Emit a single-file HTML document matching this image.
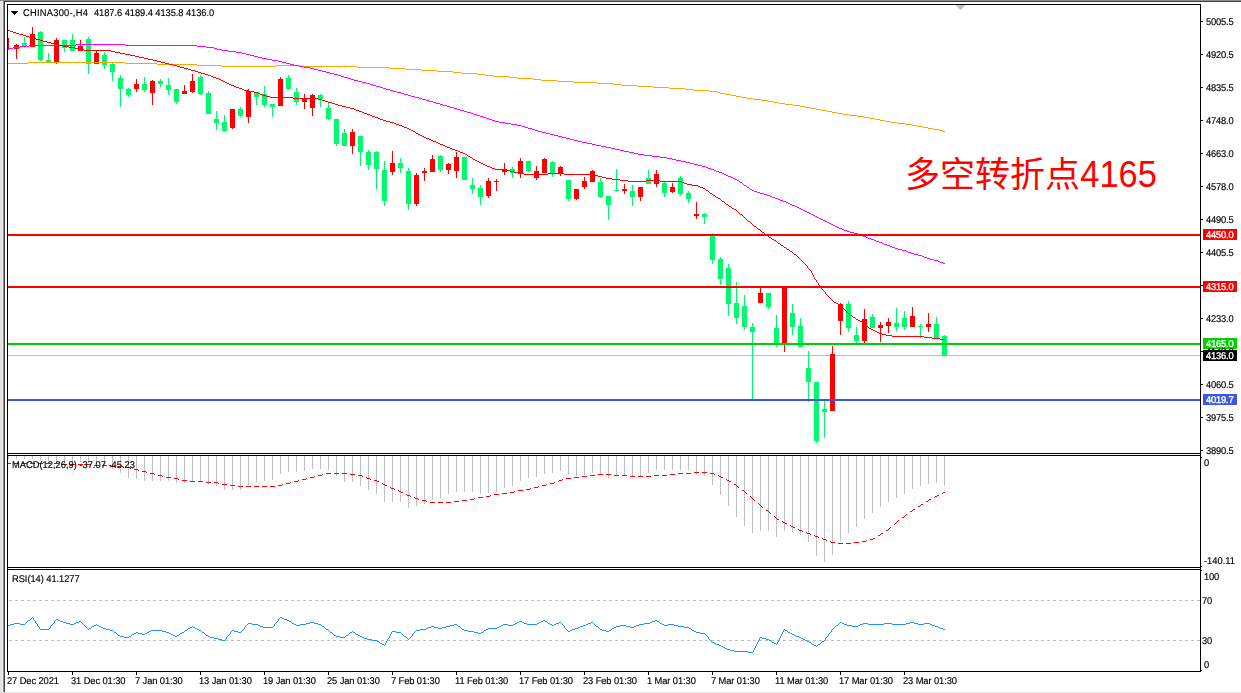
<!DOCTYPE html>
<html><head><meta charset="utf-8"><title>CHINA300 H4</title>
<style>
html,body{margin:0;padding:0;background:#fff;}
body{width:1241px;height:693px;overflow:hidden;position:relative;font-family:"Liberation Sans",sans-serif;}
.t{position:absolute;white-space:pre;line-height:1;font-family:"Liberation Sans",sans-serif;font-size:9.8px;text-rendering:geometricPrecision;transform:scaleX(0.952);transform-origin:0 0;-webkit-text-stroke:0.16px currentColor;}
#tl{position:absolute;left:0;top:0;width:1241px;height:693px;will-change:transform;}
</style></head><body>
<svg width="1241" height="693" viewBox="0 0 1241 693" shape-rendering="crispEdges" style="position:absolute;left:0;top:0"><rect width="1241" height="693" fill="#fff"/><rect x="0" y="0" width="3" height="693" fill="#e3e3e3"/><rect x="2" y="2" width="1" height="691" fill="#f0f0f0"/><rect x="3" y="0" width="1" height="692" fill="#8c8c8c"/><rect x="4" y="1" width="1" height="691" fill="#424242"/><rect x="0" y="0" width="1241" height="1" fill="#8c8c8c"/><rect x="4" y="1" width="1241" height="1" fill="#424242"/><rect x="0" y="692" width="1241" height="1" fill="#e3e3e3"/><path d="M955.6 5h9.8l-4.9 5.2z" fill="#c0c0c0" shape-rendering="auto"/><clipPath id="cm"><rect x="8" y="5" width="1192" height="448"/></clipPath><g clip-path="url(#cm)"><rect x="8" y="355" width="1192" height="1" fill="#c0c0c0"/><path d="M22 43h5v4h-5zM24 37h1v6h-1zM24 47h1v1h-1zM38 32h5v28h-5zM40 31h1v1h-1zM40 60h1v1h-1zM46 60h5v2h-5zM48 53h1v7h-1zM62 40h5v8h-5zM64 48h1v4h-1zM70 40h5v11h-5zM72 34h1v6h-1zM86 39h5v25h-5zM88 37h1v2h-1zM88 64h1v10h-1zM102 55h5v10h-5zM104 52h1v3h-1zM104 65h1v4h-1zM110 64h5v8h-5zM112 63h1v1h-1zM112 72h1v9h-1zM118 78h5v11h-5zM120 75h1v3h-1zM120 89h1v18h-1zM126 89h5v6h-5zM128 88h1v1h-1zM128 95h1v2h-1zM142 84h5v6h-5zM144 77h1v7h-1zM144 90h1v2h-1zM158 81h5v3h-5zM160 79h1v2h-1zM160 84h1v3h-1zM166 85h5v5h-5zM168 78h1v7h-1zM168 90h1v5h-1zM174 89h5v13h-5zM176 102h1v2h-1zM198 77h5v17h-5zM200 75h1v2h-1zM200 94h1v1h-1zM206 93h5v21h-5zM208 91h1v2h-1zM214 119h5v4h-5zM216 111h1v8h-1zM216 123h1v7h-1zM222 122h5v9h-5zM224 115h1v7h-1zM224 131h1v1h-1zM238 109h5v7h-5zM240 107h1v2h-1zM240 116h1v1h-1zM254 92h5v5h-5zM256 97h1v8h-1zM262 94h5v11h-5zM264 86h1v8h-1zM264 105h1v2h-1zM270 104h5v3h-5zM272 107h1v10h-1zM286 78h5v11h-5zM288 75h1v3h-1zM288 89h1v1h-1zM294 92h5v10h-5zM296 88h1v4h-1zM296 102h1v3h-1zM318 95h5v4h-5zM320 94h1v1h-1zM320 99h1v8h-1zM326 108h5v11h-5zM328 103h1v5h-1zM328 119h1v1h-1zM334 119h5v25h-5zM336 144h1v2h-1zM342 133h5v13h-5zM344 129h1v4h-1zM358 136h5v16h-5zM360 152h1v14h-1zM366 152h5v13h-5zM368 150h1v2h-1zM368 165h1v5h-1zM374 152h5v17h-5zM376 151h1v1h-1zM376 169h1v20h-1zM382 170h5v31h-5zM384 161h1v9h-1zM384 201h1v5h-1zM398 163h5v5h-5zM400 158h1v5h-1zM400 168h1v5h-1zM406 171h5v33h-5zM408 168h1v3h-1zM408 204h1v6h-1zM438 156h5v14h-5zM440 155h1v1h-1zM440 170h1v2h-1zM462 157h5v23h-5zM470 185h5v4h-5zM472 178h1v7h-1zM472 189h1v5h-1zM478 188h5v9h-5zM480 185h1v3h-1zM480 197h1v8h-1zM510 169h5v4h-5zM512 167h1v2h-1zM512 173h1v5h-1zM526 161h5v10h-5zM528 171h1v1h-1zM550 162h5v11h-5zM552 161h1v1h-1zM552 173h1v4h-1zM566 180h5v19h-5zM568 199h1v2h-1zM598 182h5v15h-5zM600 178h1v4h-1zM600 197h1v1h-1zM606 196h5v9h-5zM608 205h1v15h-1zM614 190h5v1h-5zM616 169h1v21h-1zM616 191h1v1h-1zM630 191h5v6h-5zM632 185h1v6h-1zM632 197h1v9h-1zM646 178h5v6h-5zM648 170h1v8h-1zM662 183h5v10h-5zM664 182h1v1h-1zM664 193h1v4h-1zM678 178h5v16h-5zM680 176h1v2h-1zM680 194h1v2h-1zM686 193h5v6h-5zM688 191h1v2h-1zM688 199h1v4h-1zM702 214h5v3h-5zM704 213h1v1h-1zM704 217h1v7h-1zM710 236h5v24h-5zM712 233h1v3h-1zM712 260h1v4h-1zM718 259h5v20h-5zM720 257h1v2h-1zM720 279h1v6h-1zM726 268h5v36h-5zM728 264h1v4h-1zM728 304h1v12h-1zM734 303h5v15h-5zM736 282h1v21h-1zM736 318h1v6h-1zM742 306h5v21h-5zM744 295h1v11h-1zM744 327h1v3h-1zM750 327h5v5h-5zM752 323h1v4h-1zM752 332h1v68h-1zM766 293h5v14h-5zM768 307h1v2h-1zM774 328h5v17h-5zM776 315h1v13h-1zM776 345h1v2h-1zM790 313h5v14h-5zM792 304h1v9h-1zM792 327h1v8h-1zM798 326h5v21h-5zM800 318h1v8h-1zM806 368h5v14h-5zM808 351h1v17h-1zM808 382h1v20h-1zM814 382h5v59h-5zM816 441h1v2h-1zM822 409h5v3h-5zM824 401h1v8h-1zM824 412h1v26h-1zM846 304h5v24h-5zM848 301h1v3h-1zM848 328h1v4h-1zM854 335h5v6h-5zM856 327h1v8h-1zM856 341h1v2h-1zM870 317h5v11h-5zM872 314h1v3h-1zM894 323h5v4h-5zM896 308h1v15h-1zM896 327h1v4h-1zM902 318h5v9h-5zM904 311h1v7h-1zM904 327h1v3h-1zM918 326h5v1h-5zM920 324h1v2h-1zM920 327h1v11h-1zM934 324h5v14h-5zM936 317h1v7h-1zM942 336h5v20h-5zM944 335h1v1h-1z" fill="#00fa6e"/><path d="M14 45h5v4h-5zM16 44h1v1h-1zM16 49h1v10h-1zM30 34h5v13h-5zM32 27h1v7h-1zM54 40h5v22h-5zM56 38h1v2h-1zM56 62h1v2h-1zM78 46h5v5h-5zM80 40h1v6h-1zM94 53h5v11h-5zM96 51h1v2h-1zM134 84h5v5h-5zM136 79h1v5h-1zM136 89h1v3h-1zM150 81h5v12h-5zM152 80h1v1h-1zM152 93h1v12h-1zM182 91h5v3h-5zM184 85h1v6h-1zM190 81h5v11h-5zM192 74h1v7h-1zM192 92h1v1h-1zM230 109h5v19h-5zM232 128h1v1h-1zM246 91h5v26h-5zM248 89h1v2h-1zM248 117h1v6h-1zM278 79h5v27h-5zM280 77h1v2h-1zM302 98h5v4h-5zM304 94h1v4h-1zM304 102h1v7h-1zM310 95h5v13h-5zM312 94h1v1h-1zM312 108h1v8h-1zM350 132h5v14h-5zM352 129h1v3h-1zM352 146h1v8h-1zM390 163h5v9h-5zM392 151h1v12h-1zM392 172h1v3h-1zM414 175h5v29h-5zM416 173h1v2h-1zM416 204h1v2h-1zM422 171h5v2h-5zM424 168h1v3h-1zM424 173h1v8h-1zM430 159h5v13h-5zM432 155h1v4h-1zM446 164h5v6h-5zM448 163h1v1h-1zM448 170h1v4h-1zM454 157h5v14h-5zM456 152h1v5h-1zM456 171h1v7h-1zM486 181h5v15h-5zM488 178h1v3h-1zM488 196h1v2h-1zM494 181h5v1h-5zM496 179h1v2h-1zM496 182h1v9h-1zM502 169h5v3h-5zM504 163h1v6h-1zM504 172h1v3h-1zM518 161h5v13h-5zM520 158h1v3h-1zM520 174h1v4h-1zM534 171h5v7h-5zM536 166h1v5h-1zM536 178h1v2h-1zM542 159h5v14h-5zM544 158h1v1h-1zM558 167h5v6h-5zM560 166h1v1h-1zM560 173h1v3h-1zM574 189h5v10h-5zM576 199h1v1h-1zM582 181h5v6h-5zM584 177h1v4h-1zM584 187h1v2h-1zM590 171h5v11h-5zM592 170h1v1h-1zM622 189h5v2h-5zM624 184h1v5h-1zM624 191h1v3h-1zM638 187h5v10h-5zM640 197h1v4h-1zM654 174h5v10h-5zM656 170h1v4h-1zM656 184h1v3h-1zM670 187h5v5h-5zM672 183h1v4h-1zM672 192h1v1h-1zM694 214h5v2h-5zM696 202h1v12h-1zM696 216h1v3h-1zM758 293h5v10h-5zM760 286h1v7h-1zM782 287h5v58h-5zM784 345h1v7h-1zM830 354h5v57h-5zM832 346h1v8h-1zM838 304h5v17h-5zM840 303h1v1h-1zM840 321h1v14h-1zM862 319h5v22h-5zM864 309h1v10h-1zM864 341h1v2h-1zM878 325h5v3h-5zM880 322h1v3h-1zM880 328h1v14h-1zM886 322h5v4h-5zM888 318h1v4h-1zM888 326h1v7h-1zM910 316h5v11h-5zM912 307h1v9h-1zM926 324h5v3h-5zM928 313h1v11h-1zM928 327h1v5h-1zM8 38h1v12h-1z" fill="#ff0000"/><path d="M28 62h97v1h-97zM8 63h20v1h-20zM125 63h32v1h-32zM157 64h40v1h-40zM197 65h24v1h-24zM276 65h24v1h-24zM221 66h55v1h-55zM300 66h57v1h-57zM357 67h32v1h-32zM389 68h16v1h-16zM405 69h16v1h-16zM421 70h16v1h-16zM437 71h16v1h-16zM453 72h8v1h-8zM461 73h16v1h-16zM477 74h8v1h-8zM485 75h8v1h-8zM493 76h16v1h-16zM509 77h8v1h-8zM517 78h16v1h-16zM533 79h8v1h-8zM541 80h16v1h-16zM557 81h16v1h-16zM573 82h24v1h-24zM597 83h16v1h-16zM613 84h8v1h-8zM621 85h16v1h-16zM637 86h16v1h-16zM653 87h16v1h-16zM669 88h16v1h-16zM685 89h8v1h-8zM693 90h16v1h-16zM709 91h8v1h-8zM717 92h3v1h-3zM720 93h5v1h-5zM725 94h6v1h-6zM731 95h5v1h-5zM736 96h5v1h-5zM741 97h6v1h-6zM747 98h6v1h-6zM753 99h8v1h-8zM761 100h7v1h-7zM768 101h5v1h-5zM773 102h6v1h-6zM779 103h6v1h-6zM785 104h8v1h-8zM793 105h7v1h-7zM800 106h5v1h-5zM805 107h6v1h-6zM811 108h5v1h-5zM816 109h5v1h-5zM821 110h6v1h-6zM827 111h5v1h-5zM832 112h5v1h-5zM837 113h6v1h-6zM843 114h6v1h-6zM849 115h8v1h-8zM857 116h7v1h-7zM864 117h5v1h-5zM869 118h6v1h-6zM875 119h5v1h-5zM880 120h5v1h-5zM885 121h6v1h-6zM891 122h6v1h-6zM897 123h8v1h-8zM905 124h7v1h-7zM912 125h5v1h-5zM917 126h6v1h-6zM923 127h5v1h-5zM928 128h5v1h-5zM933 129h6v1h-6zM939 130h4v1h-4zM943 131h2v1h-2z" fill="#ffa500"/><path d="M76 44h49v1h-49zM29 45h47v1h-47zM125 45h72v1h-72zM20 46h9v1h-9zM197 46h9v1h-9zM13 47h7v1h-7zM206 47h8v1h-8zM8 48h5v1h-5zM214 48h3v1h-3zM217 49h5v1h-5zM222 50h6v1h-6zM228 51h8v1h-8zM236 52h6v1h-6zM242 53h4v1h-4zM246 54h4v1h-4zM250 55h4v1h-4zM254 56h4v1h-4zM258 57h4v1h-4zM262 58h5v1h-5zM267 59h5v1h-5zM272 60h6v1h-6zM278 61h4v1h-4zM282 62h4v1h-4zM286 63h4v1h-4zM290 64h4v1h-4zM294 65h5v1h-5zM299 66h5v1h-5zM304 67h6v1h-6zM310 68h4v1h-4zM314 69h4v1h-4zM318 70h4v1h-4zM322 71h4v1h-4zM326 72h4v1h-4zM330 73h4v1h-4zM334 74h4v1h-4zM338 75h3v1h-3zM341 76h3v1h-3zM344 77h4v1h-4zM348 78h3v1h-3zM351 79h3v1h-3zM354 80h4v1h-4zM358 81h4v1h-4zM362 82h4v1h-4zM366 83h4v1h-4zM370 84h3v1h-3zM373 85h3v1h-3zM376 86h4v1h-4zM380 87h3v1h-3zM383 88h3v1h-3zM386 89h4v1h-4zM390 90h3v1h-3zM393 91h4v1h-4zM397 92h4v1h-4zM401 93h3v1h-3zM404 94h4v1h-4zM408 95h3v1h-3zM411 96h4v1h-4zM415 97h4v1h-4zM419 98h3v1h-3zM422 99h4v1h-4zM426 100h3v1h-3zM429 101h4v1h-4zM433 102h3v1h-3zM436 103h4v1h-4zM440 104h3v1h-3zM443 105h4v1h-4zM447 106h3v1h-3zM450 107h4v1h-4zM454 108h3v1h-3zM457 109h3v1h-3zM460 110h4v1h-4zM464 111h3v1h-3zM467 112h4v1h-4zM471 113h3v1h-3zM474 114h3v1h-3zM477 115h3v1h-3zM480 116h3v1h-3zM483 117h3v1h-3zM486 118h3v1h-3zM489 119h3v1h-3zM492 120h3v1h-3zM495 121h4v1h-4zM499 122h6v1h-6zM505 123h6v1h-6zM511 124h6v1h-6zM517 125h5v1h-5zM522 126h3v1h-3zM525 127h3v1h-3zM528 128h4v1h-4zM532 129h3v1h-3zM535 130h3v1h-3zM538 131h4v1h-4zM542 132h4v1h-4zM546 133h4v1h-4zM550 134h4v1h-4zM554 135h4v1h-4zM558 136h4v1h-4zM562 137h4v1h-4zM566 138h4v1h-4zM570 139h4v1h-4zM574 140h4v1h-4zM578 141h4v1h-4zM582 142h5v1h-5zM587 143h5v1h-5zM592 144h4v1h-4zM596 145h5v1h-5zM601 146h5v1h-5zM606 147h5v1h-5zM611 148h4v1h-4zM615 149h5v1h-5zM620 150h4v1h-4zM624 151h5v1h-5zM629 152h5v1h-5zM634 153h4v1h-4zM638 154h6v1h-6zM644 155h8v1h-8zM652 156h8v1h-8zM660 157h7v1h-7zM667 158h5v1h-5zM672 159h4v1h-4zM676 160h5v1h-5zM681 161h5v1h-5zM686 162h4v1h-4zM690 163h4v1h-4zM694 164h4v1h-4zM698 165h4v1h-4zM702 166h4v1h-4zM706 167h2v1h-2zM708 168h3v1h-3zM711 169h3v1h-3zM714 170h2v1h-2zM716 171h3v1h-3zM719 172h3v1h-3zM722 173h2v1h-2zM724 174h2v1h-2zM726 175h2v1h-2zM728 176h3v1h-3zM731 177h2v1h-2zM733 178h2v1h-2zM735 179h2v1h-2zM737 180h2v1h-2zM739 181h1v1h-1zM740 182h2v1h-2zM742 183h1v1h-1zM743 184h1v1h-1zM744 185h2v1h-2zM746 186h1v1h-1zM747 187h2v1h-2zM749 188h1v1h-1zM750 189h2v1h-2zM752 190h2v1h-2zM754 191h3v1h-3zM757 192h3v1h-3zM760 193h4v1h-4zM764 194h3v1h-3zM767 195h3v1h-3zM770 196h2v1h-2zM772 197h3v1h-3zM775 198h3v1h-3zM778 199h2v1h-2zM780 200h3v1h-3zM783 201h3v1h-3zM786 202h2v1h-2zM788 203h2v1h-2zM790 204h2v1h-2zM792 205h3v1h-3zM795 206h2v1h-2zM797 207h2v1h-2zM799 208h2v1h-2zM801 209h2v1h-2zM803 210h2v1h-2zM805 211h2v1h-2zM807 212h2v1h-2zM809 213h2v1h-2zM811 214h2v1h-2zM813 215h2v1h-2zM815 216h2v1h-2zM817 217h2v1h-2zM819 218h2v1h-2zM821 219h2v1h-2zM823 220h2v1h-2zM825 221h2v1h-2zM827 222h2v1h-2zM829 223h2v1h-2zM831 224h2v1h-2zM833 225h2v1h-2zM835 226h2v1h-2zM837 227h2v1h-2zM839 228h3v1h-3zM842 229h2v1h-2zM844 230h3v1h-3zM847 231h3v1h-3zM850 232h4v1h-4zM854 233h4v1h-4zM858 234h2v1h-2zM860 235h3v1h-3zM863 236h3v1h-3zM866 237h2v1h-2zM868 238h3v1h-3zM871 239h3v1h-3zM874 240h2v1h-2zM876 241h3v1h-3zM879 242h3v1h-3zM882 243h2v1h-2zM884 244h3v1h-3zM887 245h3v1h-3zM890 246h2v1h-2zM892 247h3v1h-3zM895 248h3v1h-3zM898 249h4v1h-4zM902 250h4v1h-4zM906 251h2v1h-2zM908 252h3v1h-3zM911 253h3v1h-3zM914 254h4v1h-4zM918 255h4v1h-4zM922 256h2v1h-2zM924 257h3v1h-3zM927 258h3v1h-3zM930 259h4v1h-4zM934 260h4v1h-4zM938 261h2v1h-2zM940 262h3v1h-3zM943 263h2v1h-2z" fill="#ff00ff"/><path d="M8 30h2v1h-2zM10 31h3v1h-3zM13 32h3v1h-3zM16 33h3v1h-3zM19 34h4v1h-4zM23 35h3v1h-3zM26 36h3v1h-3zM29 37h3v1h-3zM32 38h4v1h-4zM36 39h4v1h-4zM40 40h3v1h-3zM43 41h4v1h-4zM47 42h4v1h-4zM51 43h3v1h-3zM54 44h4v1h-4zM58 45h5v1h-5zM63 46h6v1h-6zM69 47h6v1h-6zM75 48h5v1h-5zM80 49h4v1h-4zM84 50h27v1h-27zM111 51h4v1h-4zM115 52h5v1h-5zM120 53h5v1h-5zM125 54h5v1h-5zM130 55h5v1h-5zM135 56h4v1h-4zM139 57h5v1h-5zM144 58h4v1h-4zM148 59h5v1h-5zM153 60h4v1h-4zM157 61h4v1h-4zM161 62h4v1h-4zM165 63h4v1h-4zM169 64h4v1h-4zM173 65h4v1h-4zM177 66h3v1h-3zM180 67h4v1h-4zM184 68h4v1h-4zM188 69h3v1h-3zM191 70h4v1h-4zM195 71h3v1h-3zM198 72h3v1h-3zM201 73h4v1h-4zM205 74h3v1h-3zM208 75h3v1h-3zM211 76h2v1h-2zM213 77h3v1h-3zM216 78h3v1h-3zM219 79h2v1h-2zM221 80h2v1h-2zM223 81h2v1h-2zM225 82h2v1h-2zM227 83h2v1h-2zM229 84h2v1h-2zM231 85h3v1h-3zM234 86h2v1h-2zM236 87h3v1h-3zM239 88h3v1h-3zM242 89h2v1h-2zM244 90h4v1h-4zM248 91h6v1h-6zM254 92h4v1h-4zM258 93h2v1h-2zM260 94h3v1h-3zM263 95h3v1h-3zM266 96h4v1h-4zM270 97h23v1h-23zM293 98h25v1h-25zM318 99h4v1h-4zM322 100h3v1h-3zM325 101h3v1h-3zM328 102h4v1h-4zM332 103h3v1h-3zM335 104h3v1h-3zM338 105h4v1h-4zM342 106h4v1h-4zM346 107h4v1h-4zM350 108h4v1h-4zM354 109h2v1h-2zM356 110h3v1h-3zM359 111h3v1h-3zM362 112h2v1h-2zM364 113h3v1h-3zM367 114h3v1h-3zM370 115h2v1h-2zM372 116h3v1h-3zM375 117h3v1h-3zM378 118h2v1h-2zM380 119h3v1h-3zM383 120h3v1h-3zM386 121h4v1h-4zM390 122h4v1h-4zM394 123h2v1h-2zM396 124h3v1h-3zM399 125h3v1h-3zM402 126h2v1h-2zM404 127h3v1h-3zM407 128h2v1h-2zM409 129h2v1h-2zM411 130h2v1h-2zM413 131h2v1h-2zM415 132h1v1h-1zM416 133h2v1h-2zM418 134h2v1h-2zM420 135h2v1h-2zM422 136h2v1h-2zM424 137h2v1h-2zM426 138h3v1h-3zM429 139h2v1h-2zM431 140h2v1h-2zM433 141h3v1h-3zM436 142h2v1h-2zM438 143h2v1h-2zM440 144h3v1h-3zM443 145h2v1h-2zM445 146h2v1h-2zM447 147h3v1h-3zM450 148h2v1h-2zM452 149h3v1h-3zM455 150h3v1h-3zM458 151h2v1h-2zM460 152h3v1h-3zM463 153h2v1h-2zM465 154h2v1h-2zM467 155h1v1h-1zM468 156h2v1h-2zM470 157h2v1h-2zM472 158h1v1h-1zM473 159h2v1h-2zM475 160h2v1h-2zM477 161h2v1h-2zM479 162h2v1h-2zM481 163h2v1h-2zM483 164h2v1h-2zM485 165h2v1h-2zM487 166h3v1h-3zM490 167h2v1h-2zM492 168h3v1h-3zM495 169h11v1h-11zM506 170h4v1h-4zM510 171h4v1h-4zM514 172h4v1h-4zM518 173h6v1h-6zM548 173h16v1h-16zM524 174h24v1h-24zM564 174h30v1h-30zM594 175h4v1h-4zM598 176h4v1h-4zM602 177h4v1h-4zM606 178h6v1h-6zM612 179h8v1h-8zM620 180h8v1h-8zM646 180h14v1h-14zM628 181h18v1h-18zM660 181h22v1h-22zM682 182h2v1h-2zM684 183h3v1h-3zM687 184h5v1h-5zM692 185h6v1h-6zM698 186h2v1h-2zM700 187h3v1h-3zM703 188h2v1h-2zM705 189h1v1h-1zM706 190h2v1h-2zM708 191h1v1h-1zM709 192h1v1h-1zM710 193h2v1h-2zM712 194h1v1h-1zM713 195h2v1h-2zM715 196h1v1h-1zM716 197h2v1h-2zM718 198h2v1h-2zM720 199h1v1h-1zM721 200h1v1h-1zM722 201h2v1h-2zM724 202h1v1h-1zM725 203h1v1h-1zM726 204h2v1h-2zM728 205h1v1h-1zM729 206h2v1h-2zM731 207h1v1h-1zM732 208h2v1h-2zM734 209h2v1h-2zM736 210h1v1h-1zM737 211h1v1h-1zM738 212h1v1h-1zM739 213h1v1h-1zM740 214h2v1h-2zM742 215h1v1h-1zM743 216h1v1h-1zM744 217h1v1h-1zM745 218h1v1h-1zM746 219h1v1h-1zM747 220h1v1h-1zM748 221h2v1h-2zM750 222h1v1h-1zM751 223h1v1h-1zM752 224h1v1h-1zM753 225h1v1h-1zM754 226h2v1h-2zM756 227h1v1h-1zM757 228h1v1h-1zM758 229h2v1h-2zM760 230h1v1h-1zM761 231h1v1h-1zM762 232h2v1h-2zM764 233h1v1h-1zM765 234h1v1h-1zM766 235h2v1h-2zM768 236h1v1h-1zM769 237h2v1h-2zM771 238h1v1h-1zM772 239h2v1h-2zM774 240h2v1h-2zM776 241h1v1h-1zM777 242h1v1h-1zM778 243h2v1h-2zM780 244h1v1h-1zM781 245h2v1h-2zM783 246h1v1h-1zM784 247h2v1h-2zM786 248h1v1h-1zM787 249h2v1h-2zM789 250h1v1h-1zM790 251h2v1h-2zM792 252h1v1h-1zM793 253h1v1h-1zM794 254h2v1h-2zM796 255h1v1h-1zM797 256h1v1h-1zM798 257h1v1h-1zM799 258h1v1h-1zM800 259h1v1h-1zM801 260h1v1h-1zM802 261h1v1h-1zM803 262h1v1h-1zM804 263h1v1h-1zM805 264h1v1h-1zM806 265h1v1h-1zM807 266h1v1h-1zM807 267h1v1h-1zM808 268h1v1h-1zM809 269h1v1h-1zM810 270h1v1h-1zM811 271h1v1h-1zM811 272h1v1h-1zM812 273h1v1h-1zM812 274h1v1h-1zM813 275h1v1h-1zM813 276h1v1h-1zM814 277h1v1h-1zM814 278h1v1h-1zM815 279h1v1h-1zM816 280h1v1h-1zM816 281h1v1h-1zM817 282h1v1h-1zM818 283h1v1h-1zM818 284h1v1h-1zM819 285h1v1h-1zM820 286h1v1h-1zM821 287h1v1h-1zM821 288h1v1h-1zM822 289h1v1h-1zM823 290h1v1h-1zM824 291h1v1h-1zM825 292h1v1h-1zM825 293h1v1h-1zM826 294h1v1h-1zM827 295h1v1h-1zM828 296h1v1h-1zM829 297h1v1h-1zM830 298h1v1h-1zM831 299h1v1h-1zM832 300h1v1h-1zM833 301h1v1h-1zM834 302h2v1h-2zM836 303h2v1h-2zM838 304h2v1h-2zM840 305h1v1h-1zM841 306h1v1h-1zM842 307h1v1h-1zM843 308h1v1h-1zM844 309h1v1h-1zM845 310h1v1h-1zM846 311h1v1h-1zM847 312h1v1h-1zM848 313h1v1h-1zM849 314h1v1h-1zM850 315h2v1h-2zM852 316h1v1h-1zM853 317h2v1h-2zM855 318h1v1h-1zM856 319h2v1h-2zM858 320h2v1h-2zM860 321h2v1h-2zM862 322h1v1h-1zM863 323h1v1h-1zM864 324h1v1h-1zM865 325h2v1h-2zM867 326h1v1h-1zM868 327h1v1h-1zM869 328h2v1h-2zM871 329h2v1h-2zM873 330h2v1h-2zM875 331h2v1h-2zM877 332h2v1h-2zM879 333h3v1h-3zM882 334h4v1h-4zM886 335h6v1h-6zM892 336h32v1h-32zM924 337h8v1h-8zM932 338h8v1h-8zM940 339h5v1h-5z" fill="#ff0000"/></g><rect x="8" y="234" width="1192" height="2" fill="#ff0000"/><rect x="8" y="286" width="1192" height="2" fill="#ff0000"/><rect x="8" y="343" width="1192" height="2" fill="#00d000"/><rect x="8" y="399" width="1192" height="2" fill="#3c58e2"/><path d="M8 456h1v3h-1zM16 456h1v3h-1zM24 456h1v3h-1zM32 456h1v3h-1zM40 456h1v4h-1zM48 456h1v5h-1zM56 456h1v6h-1zM64 456h1v6h-1zM72 456h1v6h-1zM80 456h1v6h-1zM88 456h1v7h-1zM96 456h1v8h-1zM104 456h1v10h-1zM112 456h1v13h-1zM120 456h1v17h-1zM128 456h1v22h-1zM136 456h1v23h-1zM144 456h1v25h-1zM152 456h1v25h-1zM160 456h1v25h-1zM168 456h1v25h-1zM176 456h1v27h-1zM184 456h1v27h-1zM192 456h1v25h-1zM200 456h1v25h-1zM208 456h1v28h-1zM216 456h1v30h-1zM224 456h1v34h-1zM232 456h1v34h-1zM240 456h1v34h-1zM248 456h1v29h-1zM256 456h1v26h-1zM264 456h1v25h-1zM272 456h1v24h-1zM280 456h1v18h-1zM288 456h1v16h-1zM296 456h1v16h-1zM304 456h1v15h-1zM312 456h1v13h-1zM320 456h1v13h-1zM328 456h1v14h-1zM336 456h1v20h-1zM344 456h1v26h-1zM352 456h1v26h-1zM360 456h1v30h-1zM368 456h1v34h-1zM376 456h1v38h-1zM384 456h1v46h-1zM392 456h1v46h-1zM400 456h1v46h-1zM408 456h1v52h-1zM416 456h1v50h-1zM424 456h1v48h-1zM432 456h1v44h-1zM440 456h1v42h-1zM448 456h1v38h-1zM456 456h1v36h-1zM464 456h1v36h-1zM472 456h1v36h-1zM480 456h1v38h-1zM488 456h1v37h-1zM496 456h1v36h-1zM504 456h1v32h-1zM512 456h1v30h-1zM520 456h1v25h-1zM528 456h1v22h-1zM536 456h1v21h-1zM544 456h1v18h-1zM552 456h1v17h-1zM560 456h1v15h-1zM568 456h1v19h-1zM576 456h1v20h-1zM584 456h1v19h-1zM592 456h1v17h-1zM600 456h1v18h-1zM608 456h1v22h-1zM616 456h1v20h-1zM624 456h1v20h-1zM632 456h1v20h-1zM640 456h1v20h-1zM648 456h1v17h-1zM656 456h1v14h-1zM664 456h1v14h-1zM672 456h1v14h-1zM680 456h1v14h-1zM688 456h1v14h-1zM696 456h1v18h-1zM704 456h1v20h-1zM712 456h1v29h-1zM720 456h1v39h-1zM728 456h1v50h-1zM736 456h1v61h-1zM744 456h1v70h-1zM752 456h1v77h-1zM760 456h1v75h-1zM768 456h1v75h-1zM776 456h1v81h-1zM784 456h1v75h-1zM792 456h1v76h-1zM800 456h1v79h-1zM808 456h1v86h-1zM816 456h1v100h-1zM824 456h1v106h-1zM832 456h1v99h-1zM840 456h1v85h-1zM848 456h1v77h-1zM856 456h1v71h-1zM864 456h1v63h-1zM872 456h1v57h-1zM880 456h1v51h-1zM888 456h1v46h-1zM896 456h1v42h-1zM904 456h1v38h-1zM912 456h1v33h-1zM920 456h1v30h-1zM928 456h1v28h-1zM936 456h1v27h-1zM944 456h1v30h-1z" fill="#c0c0c0"/><path d="M8 463h3v1h-3zM14 463h5v1h-5zM22 463h5v1h-5zM30 463h5v1h-5zM38 463h5v1h-5zM46 463h5v1h-5zM54 463h5v1h-5zM62 464h5v1h-5zM70 464h5v1h-5zM78 464h5v1h-5zM86 464h5v1h-5zM94 465h5v1h-5zM102 465h5v1h-5zM110 466h5v1h-5zM118 466h5v1h-5zM126 467h4v1h-4zM130 468h1v1h-1zM134 469h4v1h-4zM138 470h1v1h-1zM142 471h4v1h-4zM146 472h1v1h-1zM694 472h5v1h-5zM702 472h5v1h-5zM150 473h4v1h-4zM326 473h5v1h-5zM334 473h5v1h-5zM342 473h5v1h-5zM678 473h5v1h-5zM686 473h5v1h-5zM710 473h4v1h-4zM154 474h1v1h-1zM322 474h1v1h-1zM350 474h5v1h-5zM598 474h5v1h-5zM606 474h5v1h-5zM670 474h5v1h-5zM714 474h1v1h-1zM158 475h4v1h-4zM318 475h4v1h-4zM358 475h4v1h-4zM590 475h5v1h-5zM614 475h5v1h-5zM622 475h5v1h-5zM654 475h5v1h-5zM662 475h5v1h-5zM718 475h1v1h-1zM162 476h1v1h-1zM314 476h1v1h-1zM362 476h1v1h-1zM582 476h5v1h-5zM630 476h5v1h-5zM638 476h5v1h-5zM646 476h5v1h-5zM719 476h2v1h-2zM166 477h5v1h-5zM310 477h4v1h-4zM366 477h1v1h-1zM574 477h5v1h-5zM721 477h2v1h-2zM174 478h4v1h-4zM306 478h1v1h-1zM367 478h3v1h-3zM566 478h5v1h-5zM178 479h1v1h-1zM302 479h4v1h-4zM370 479h1v1h-1zM562 479h1v1h-1zM726 479h1v1h-1zM182 480h5v1h-5zM298 480h1v1h-1zM374 480h3v1h-3zM559 480h3v1h-3zM727 480h2v1h-2zM190 481h5v1h-5zM198 481h5v1h-5zM294 481h4v1h-4zM377 481h2v1h-2zM558 481h1v1h-1zM729 481h2v1h-2zM206 482h5v1h-5zM214 482h4v1h-4zM290 482h1v1h-1zM554 482h1v1h-1zM218 483h1v1h-1zM286 483h4v1h-4zM382 483h1v1h-1zM550 483h4v1h-4zM222 484h5v1h-5zM282 484h1v1h-1zM383 484h2v1h-2zM546 484h1v1h-1zM734 484h2v1h-2zM230 485h5v1h-5zM278 485h4v1h-4zM385 485h2v1h-2zM542 485h4v1h-4zM736 485h1v1h-1zM238 486h5v1h-5zM246 486h5v1h-5zM254 486h5v1h-5zM262 486h5v1h-5zM270 486h5v1h-5zM538 486h1v1h-1zM737 486h1v1h-1zM390 487h1v1h-1zM534 487h4v1h-4zM738 487h1v1h-1zM391 488h3v1h-3zM530 488h1v1h-1zM394 489h1v1h-1zM526 489h4v1h-4zM398 490h1v1h-1zM518 490h5v1h-5zM742 490h2v1h-2zM399 491h2v1h-2zM514 491h1v1h-1zM744 491h1v1h-1zM401 492h2v1h-2zM510 492h4v1h-4zM745 492h1v1h-1zM943 492h2v1h-2zM502 493h5v1h-5zM746 493h1v1h-1zM942 493h1v1h-1zM406 494h1v1h-1zM494 494h5v1h-5zM407 495h3v1h-3zM490 495h1v1h-1zM937 495h2v1h-2zM410 496h1v1h-1zM486 496h4v1h-4zM750 496h1v1h-1zM935 496h2v1h-2zM414 497h1v1h-1zM478 497h5v1h-5zM751 497h1v1h-1zM934 497h1v1h-1zM415 498h3v1h-3zM474 498h1v1h-1zM752 498h1v1h-1zM418 499h1v1h-1zM470 499h4v1h-4zM753 499h1v1h-1zM929 499h2v1h-2zM422 500h4v1h-4zM462 500h5v1h-5zM754 500h1v1h-1zM928 500h1v1h-1zM426 501h1v1h-1zM454 501h5v1h-5zM926 501h2v1h-2zM430 502h5v1h-5zM438 502h5v1h-5zM446 502h5v1h-5zM758 503h1v1h-1zM759 504h1v1h-1zM921 504h2v1h-2zM760 505h1v1h-1zM920 505h1v1h-1zM761 506h1v1h-1zM918 506h2v1h-2zM762 507h1v1h-1zM913 509h2v1h-2zM766 510h2v1h-2zM912 510h1v1h-1zM768 511h1v1h-1zM910 511h2v1h-2zM769 512h1v1h-1zM770 513h1v1h-1zM906 514h1v1h-1zM905 515h1v1h-1zM774 516h1v1h-1zM904 516h1v1h-1zM775 517h1v1h-1zM902 517h2v1h-2zM776 518h1v1h-1zM777 519h2v1h-2zM898 520h1v1h-1zM782 521h1v1h-1zM897 521h1v1h-1zM783 522h2v1h-2zM896 522h1v1h-1zM785 523h2v1h-2zM895 523h1v1h-1zM894 524h1v1h-1zM790 525h1v1h-1zM791 526h2v1h-2zM793 527h2v1h-2zM890 527h1v1h-1zM889 528h1v1h-1zM798 529h1v1h-1zM888 529h1v1h-1zM799 530h3v1h-3zM886 530h2v1h-2zM802 531h1v1h-1zM806 532h1v1h-1zM807 533h3v1h-3zM881 533h2v1h-2zM810 534h1v1h-1zM880 534h1v1h-1zM814 535h1v1h-1zM878 535h2v1h-2zM815 536h3v1h-3zM818 537h1v1h-1zM822 538h1v1h-1zM873 538h2v1h-2zM823 539h3v1h-3zM870 539h3v1h-3zM826 540h1v1h-1zM866 540h1v1h-1zM830 541h1v1h-1zM862 541h4v1h-4zM831 542h4v1h-4zM854 542h5v1h-5zM838 543h5v1h-5zM846 543h5v1h-5z" fill="#ff0000"/><path d="M9 600h1191M9 640h1191" stroke="#c0c0c0" stroke-width="1" stroke-dasharray="3 3" fill="none" transform="translate(0,0.5)"/><path d="M32 617h1v1h-1zM280 617h2v1h-2zM31 618h1v1h-1zM33 618h1v1h-1zM279 618h1v1h-1zM282 618h2v1h-2zM30 619h1v1h-1zM33 619h1v1h-1zM56 619h2v1h-2zM278 619h1v1h-1zM284 619h3v1h-3zM28 620h2v1h-2zM34 620h1v1h-1zM55 620h1v1h-1zM58 620h2v1h-2zM278 620h1v1h-1zM287 620h2v1h-2zM543 620h2v1h-2zM655 620h2v1h-2zM27 621h1v1h-1zM35 621h1v1h-1zM54 621h1v1h-1zM60 621h3v1h-3zM79 621h2v1h-2zM277 621h1v1h-1zM289 621h2v1h-2zM519 621h3v1h-3zM541 621h2v1h-2zM545 621h2v1h-2zM652 621h3v1h-3zM657 621h2v1h-2zM26 622h1v1h-1zM35 622h1v1h-1zM54 622h1v1h-1zM63 622h3v1h-3zM76 622h3v1h-3zM81 622h1v1h-1zM276 622h1v1h-1zM291 622h1v1h-1zM310 622h4v1h-4zM517 622h2v1h-2zM522 622h2v1h-2zM539 622h2v1h-2zM547 622h1v1h-1zM559 622h2v1h-2zM591 622h2v1h-2zM650 622h2v1h-2zM659 622h1v1h-1zM840 622h2v1h-2zM910 622h4v1h-4zM14 623h6v1h-6zM25 623h1v1h-1zM36 623h1v1h-1zM53 623h1v1h-1zM66 623h4v1h-4zM74 623h2v1h-2zM82 623h1v1h-1zM248 623h4v1h-4zM275 623h1v1h-1zM292 623h2v1h-2zM306 623h4v1h-4zM314 623h4v1h-4zM515 623h2v1h-2zM524 623h3v1h-3zM537 623h2v1h-2zM548 623h2v1h-2zM556 623h3v1h-3zM561 623h1v1h-1zM588 623h3v1h-3zM593 623h1v1h-1zM644 623h6v1h-6zM660 623h2v1h-2zM839 623h1v1h-1zM842 623h2v1h-2zM863 623h5v1h-5zM884 623h8v1h-8zM906 623h4v1h-4zM914 623h4v1h-4zM924 623h6v1h-6zM10 624h4v1h-4zM20 624h5v1h-5zM37 624h1v1h-1zM52 624h1v1h-1zM70 624h4v1h-4zM83 624h1v1h-1zM96 624h1v1h-1zM247 624h1v1h-1zM252 624h6v1h-6zM274 624h1v1h-1zM294 624h2v1h-2zM300 624h6v1h-6zM318 624h3v1h-3zM454 624h3v1h-3zM503 624h5v1h-5zM513 624h2v1h-2zM527 624h10v1h-10zM550 624h2v1h-2zM554 624h2v1h-2zM562 624h1v1h-1zM586 624h2v1h-2zM594 624h1v1h-1zM639 624h5v1h-5zM662 624h2v1h-2zM668 624h6v1h-6zM838 624h1v1h-1zM844 624h3v1h-3zM860 624h3v1h-3zM868 624h16v1h-16zM892 624h14v1h-14zM918 624h6v1h-6zM930 624h2v1h-2zM8 625h2v1h-2zM37 625h1v1h-1zM51 625h1v1h-1zM84 625h1v1h-1zM94 625h2v1h-2zM97 625h2v1h-2zM246 625h1v1h-1zM258 625h2v1h-2zM274 625h1v1h-1zM296 625h4v1h-4zM321 625h1v1h-1zM450 625h4v1h-4zM457 625h1v1h-1zM501 625h2v1h-2zM508 625h5v1h-5zM552 625h2v1h-2zM563 625h1v1h-1zM583 625h3v1h-3zM595 625h1v1h-1zM620 625h6v1h-6zM636 625h3v1h-3zM664 625h4v1h-4zM674 625h4v1h-4zM836 625h2v1h-2zM847 625h5v1h-5zM858 625h2v1h-2zM932 625h3v1h-3zM38 626h1v1h-1zM50 626h1v1h-1zM85 626h1v1h-1zM92 626h2v1h-2zM99 626h2v1h-2zM192 626h1v1h-1zM245 626h1v1h-1zM260 626h3v1h-3zM273 626h1v1h-1zM322 626h2v1h-2zM431 626h3v1h-3zM446 626h4v1h-4zM458 626h2v1h-2zM499 626h2v1h-2zM564 626h1v1h-1zM580 626h3v1h-3zM596 626h2v1h-2zM616 626h4v1h-4zM626 626h4v1h-4zM634 626h2v1h-2zM678 626h6v1h-6zM835 626h1v1h-1zM852 626h6v1h-6zM935 626h3v1h-3zM39 627h1v1h-1zM50 627h1v1h-1zM86 627h1v1h-1zM91 627h1v1h-1zM101 627h2v1h-2zM190 627h2v1h-2zM193 627h2v1h-2zM244 627h1v1h-1zM263 627h10v1h-10zM324 627h1v1h-1zM428 627h3v1h-3zM434 627h4v1h-4zM442 627h4v1h-4zM460 627h1v1h-1zM497 627h2v1h-2zM564 627h1v1h-1zM578 627h2v1h-2zM598 627h1v1h-1zM614 627h2v1h-2zM630 627h4v1h-4zM684 627h5v1h-5zM834 627h1v1h-1zM938 627h2v1h-2zM39 628h1v1h-1zM49 628h1v1h-1zM87 628h1v1h-1zM89 628h2v1h-2zM103 628h3v1h-3zM188 628h2v1h-2zM195 628h2v1h-2zM244 628h1v1h-1zM325 628h1v1h-1zM426 628h2v1h-2zM438 628h4v1h-4zM461 628h1v1h-1zM488 628h9v1h-9zM565 628h1v1h-1zM575 628h3v1h-3zM599 628h1v1h-1zM612 628h2v1h-2zM689 628h2v1h-2zM833 628h1v1h-1zM940 628h3v1h-3zM40 629h9v1h-9zM88 629h1v1h-1zM106 629h4v1h-4zM187 629h1v1h-1zM197 629h2v1h-2zM243 629h1v1h-1zM326 629h2v1h-2zM420 629h6v1h-6zM462 629h2v1h-2zM486 629h2v1h-2zM566 629h1v1h-1zM572 629h3v1h-3zM600 629h2v1h-2zM611 629h1v1h-1zM691 629h1v1h-1zM784 629h1v1h-1zM832 629h1v1h-1zM943 629h2v1h-2zM110 630h3v1h-3zM151 630h11v1h-11zM185 630h2v1h-2zM199 630h2v1h-2zM232 630h2v1h-2zM242 630h1v1h-1zM328 630h1v1h-1zM416 630h4v1h-4zM464 630h4v1h-4zM484 630h2v1h-2zM567 630h1v1h-1zM570 630h2v1h-2zM602 630h4v1h-4zM609 630h2v1h-2zM692 630h2v1h-2zM783 630h1v1h-1zM785 630h2v1h-2zM831 630h1v1h-1zM113 631h1v1h-1zM149 631h2v1h-2zM162 631h4v1h-4zM184 631h1v1h-1zM201 631h1v1h-1zM231 631h1v1h-1zM234 631h4v1h-4zM241 631h1v1h-1zM329 631h1v1h-1zM352 631h1v1h-1zM392 631h4v1h-4zM415 631h1v1h-1zM468 631h6v1h-6zM483 631h1v1h-1zM568 631h2v1h-2zM606 631h3v1h-3zM694 631h2v1h-2zM783 631h1v1h-1zM787 631h1v1h-1zM831 631h1v1h-1zM114 632h2v1h-2zM136 632h2v1h-2zM147 632h2v1h-2zM166 632h3v1h-3zM182 632h2v1h-2zM202 632h2v1h-2zM230 632h1v1h-1zM238 632h3v1h-3zM330 632h2v1h-2zM350 632h2v1h-2zM353 632h2v1h-2zM391 632h1v1h-1zM396 632h5v1h-5zM414 632h1v1h-1zM474 632h4v1h-4zM481 632h2v1h-2zM696 632h4v1h-4zM782 632h1v1h-1zM788 632h2v1h-2zM830 632h1v1h-1zM116 633h1v1h-1zM134 633h2v1h-2zM138 633h4v1h-4zM145 633h2v1h-2zM169 633h2v1h-2zM180 633h2v1h-2zM204 633h1v1h-1zM230 633h1v1h-1zM332 633h1v1h-1zM349 633h1v1h-1zM355 633h1v1h-1zM391 633h1v1h-1zM401 633h1v1h-1zM413 633h1v1h-1zM478 633h3v1h-3zM700 633h5v1h-5zM782 633h1v1h-1zM790 633h2v1h-2zM829 633h1v1h-1zM117 634h1v1h-1zM132 634h2v1h-2zM142 634h3v1h-3zM171 634h2v1h-2zM179 634h1v1h-1zM205 634h1v1h-1zM229 634h1v1h-1zM333 634h1v1h-1zM348 634h1v1h-1zM356 634h2v1h-2zM390 634h1v1h-1zM402 634h1v1h-1zM412 634h1v1h-1zM705 634h1v1h-1zM781 634h1v1h-1zM792 634h2v1h-2zM828 634h1v1h-1zM118 635h2v1h-2zM131 635h1v1h-1zM173 635h2v1h-2zM177 635h2v1h-2zM206 635h2v1h-2zM228 635h1v1h-1zM334 635h2v1h-2zM346 635h2v1h-2zM358 635h2v1h-2zM390 635h1v1h-1zM403 635h1v1h-1zM412 635h1v1h-1zM706 635h1v1h-1zM781 635h1v1h-1zM794 635h2v1h-2zM828 635h1v1h-1zM120 636h4v1h-4zM129 636h2v1h-2zM175 636h2v1h-2zM208 636h2v1h-2zM227 636h1v1h-1zM336 636h4v1h-4zM345 636h1v1h-1zM360 636h2v1h-2zM389 636h1v1h-1zM404 636h2v1h-2zM411 636h1v1h-1zM707 636h1v1h-1zM780 636h1v1h-1zM796 636h3v1h-3zM827 636h1v1h-1zM124 637h5v1h-5zM210 637h4v1h-4zM226 637h1v1h-1zM340 637h5v1h-5zM362 637h2v1h-2zM389 637h1v1h-1zM406 637h1v1h-1zM410 637h1v1h-1zM708 637h1v1h-1zM760 637h2v1h-2zM780 637h1v1h-1zM799 637h2v1h-2zM826 637h1v1h-1zM214 638h4v1h-4zM226 638h1v1h-1zM364 638h3v1h-3zM388 638h1v1h-1zM407 638h1v1h-1zM409 638h1v1h-1zM708 638h1v1h-1zM759 638h1v1h-1zM762 638h4v1h-4zM779 638h1v1h-1zM801 638h2v1h-2zM825 638h1v1h-1zM218 639h4v1h-4zM225 639h1v1h-1zM367 639h5v1h-5zM387 639h1v1h-1zM408 639h1v1h-1zM709 639h1v1h-1zM759 639h1v1h-1zM766 639h3v1h-3zM779 639h1v1h-1zM803 639h2v1h-2zM825 639h1v1h-1zM222 640h3v1h-3zM372 640h5v1h-5zM387 640h1v1h-1zM710 640h1v1h-1zM758 640h1v1h-1zM769 640h2v1h-2zM778 640h1v1h-1zM805 640h2v1h-2zM824 640h1v1h-1zM377 641h2v1h-2zM386 641h1v1h-1zM711 641h1v1h-1zM758 641h1v1h-1zM771 641h1v1h-1zM778 641h1v1h-1zM807 641h2v1h-2zM822 641h2v1h-2zM379 642h1v1h-1zM386 642h1v1h-1zM712 642h2v1h-2zM757 642h1v1h-1zM772 642h2v1h-2zM777 642h1v1h-1zM809 642h2v1h-2zM821 642h1v1h-1zM380 643h2v1h-2zM385 643h1v1h-1zM714 643h2v1h-2zM757 643h1v1h-1zM774 643h2v1h-2zM777 643h1v1h-1zM811 643h1v1h-1zM820 643h1v1h-1zM382 644h2v1h-2zM385 644h1v1h-1zM716 644h3v1h-3zM756 644h1v1h-1zM776 644h1v1h-1zM812 644h2v1h-2zM818 644h2v1h-2zM384 645h1v1h-1zM719 645h2v1h-2zM756 645h1v1h-1zM814 645h2v1h-2zM817 645h1v1h-1zM721 646h2v1h-2zM755 646h1v1h-1zM816 646h1v1h-1zM723 647h2v1h-2zM755 647h1v1h-1zM725 648h2v1h-2zM754 648h1v1h-1zM727 649h3v1h-3zM754 649h1v1h-1zM730 650h4v1h-4zM753 650h1v1h-1zM734 651h14v1h-14zM753 651h1v1h-1zM748 652h5v1h-5z" fill="#1e90ff"/><path d="M7 4h1194v1h-1194z M7 453h1194v1h-1194z M7 455h1194v1h-1194z M7 567h1194v1h-1194z M7 569h1194v1h-1194z M7 671h1194v1h-1194z M7 4h1v668h-1z M1200 4h1v668h-1z" fill="#000"/><path d="M1201 21h2v1h-2zM1201 54h2v1h-2zM1201 87h2v1h-2zM1201 120h2v1h-2zM1201 153h2v1h-2zM1201 186h2v1h-2zM1201 219h2v1h-2zM1201 252h2v1h-2zM1201 285h2v1h-2zM1201 318h2v1h-2zM1201 351h2v1h-2zM1201 384h2v1h-2zM1201 417h2v1h-2zM1201 450h2v1h-2zM1201 457h1v1h-1zM1201 566h1v1h-1zM1201 570h1v1h-1zM1201 670h1v1h-1zM8 672h1v3h-1zM72 672h1v3h-1zM136 672h1v3h-1zM200 672h1v3h-1zM264 672h1v3h-1zM328 672h1v3h-1zM392 672h1v3h-1zM456 672h1v3h-1zM520 672h1v3h-1zM584 672h1v3h-1zM648 672h1v3h-1zM712 672h1v3h-1zM776 672h1v3h-1zM840 672h1v3h-1zM904 672h1v3h-1z" fill="#000"/><rect x="1203" y="229" width="34" height="11" fill="#ff0000"/><rect x="1203" y="281" width="34" height="11" fill="#ff0000"/><rect x="1203" y="338" width="34" height="11" fill="#00d000"/><rect x="1203" y="350" width="34" height="11" fill="#000"/><rect x="1203" y="394" width="34" height="11" fill="#3c58e2"/><path d="M11 11h7l-3.5 4z" fill="#000"/></svg>
<svg width="1241" height="693" style="position:absolute;left:0;top:0" fill="#ff0000"><text x="905" y="187.1" font-size="35" fill="#ff0000" style="font-family:'Liberation Sans','Noto Sans CJK SC',sans-serif;">多空转折点</text><text transform="translate(1080.3,187.2) scale(0.935,1)" x="0" y="0" font-size="36.8" fill="#ff0000" style="font-family:'Liberation Sans','Noto Sans CJK SC',sans-serif;">4165</text></svg>
<div id="tl"><span class="t" style="left:23px;top:8.7px;color:#000;letter-spacing:0.25px;">CHINA300-,H4</span><span class="t" style="left:94px;top:8.7px;color:#000;letter-spacing:-0.07px;">4187.6 4189.4 4135.8 4136.0</span><span class="t" style="left:12px;top:460.7px;color:#000;">MACD(12,26,9) -37.07 -45.23</span><span class="t" style="left:12px;top:574.7px;color:#000;letter-spacing:-0.06px;">RSI(14) 41.1277</span><span class="t" style="left:1206px;top:17.7px;color:#000;letter-spacing:-0.2px;">5005.5</span><span class="t" style="left:1206px;top:50.7px;color:#000;letter-spacing:-0.2px;">4920.5</span><span class="t" style="left:1206px;top:83.7px;color:#000;letter-spacing:-0.2px;">4835.5</span><span class="t" style="left:1206px;top:116.7px;color:#000;letter-spacing:-0.2px;">4748.0</span><span class="t" style="left:1206px;top:149.7px;color:#000;letter-spacing:-0.2px;">4663.0</span><span class="t" style="left:1206px;top:182.7px;color:#000;letter-spacing:-0.2px;">4578.0</span><span class="t" style="left:1206px;top:215.7px;color:#000;letter-spacing:-0.2px;">4490.5</span><span class="t" style="left:1206px;top:248.7px;color:#000;letter-spacing:-0.2px;">4405.5</span><span class="t" style="left:1206px;top:314.7px;color:#000;letter-spacing:-0.2px;">4233.0</span><span class="t" style="left:1206px;top:347.7px;color:#000;letter-spacing:-0.2px;">4148.0</span><span class="t" style="left:1206px;top:380.7px;color:#000;letter-spacing:-0.2px;">4060.5</span><span class="t" style="left:1206px;top:413.7px;color:#000;letter-spacing:-0.2px;">3975.5</span><span class="t" style="left:1206px;top:446.7px;color:#000;letter-spacing:-0.2px;">3890.5</span><span class="t" style="left:1206px;top:230.7px;color:#fff;letter-spacing:-0.2px;-webkit-text-stroke:0.35px #fff;">4450.0</span><span class="t" style="left:1206px;top:282.7px;color:#fff;letter-spacing:-0.2px;-webkit-text-stroke:0.35px #fff;">4315.0</span><span class="t" style="left:1206px;top:339.7px;color:#fff;letter-spacing:-0.2px;-webkit-text-stroke:0.35px #fff;">4165.0</span><span class="t" style="left:1206px;top:351.7px;color:#fff;letter-spacing:-0.2px;-webkit-text-stroke:0.35px #fff;">4136.0</span><span class="t" style="left:1206px;top:395.7px;color:#fff;letter-spacing:-0.2px;-webkit-text-stroke:0.35px #fff;">4019.7</span><span class="t" style="left:1204px;top:458.7px;color:#000;">0</span><span class="t" style="left:1204px;top:556.7px;color:#000;">-140.11</span><span class="t" style="left:1204.3px;top:572.7px;color:#000;letter-spacing:-0.25px;">100</span><span class="t" style="left:1202.4px;top:596.7px;color:#000;letter-spacing:-0.2px;">70</span><span class="t" style="left:1202.4px;top:636.7px;color:#000;letter-spacing:-0.2px;">30</span><span class="t" style="left:1204px;top:660.7px;color:#000;">0</span><span class="t" style="left:7px;top:676.7px;color:#000;letter-spacing:-0.1px;">27 Dec 2021</span><span class="t" style="left:71px;top:676.7px;color:#000;letter-spacing:-0.1px;">31 Dec 01:30</span><span class="t" style="left:135px;top:676.7px;color:#000;letter-spacing:-0.1px;">7 Jan 01:30</span><span class="t" style="left:199px;top:676.7px;color:#000;letter-spacing:-0.1px;">13 Jan 01:30</span><span class="t" style="left:263px;top:676.7px;color:#000;letter-spacing:-0.1px;">19 Jan 01:30</span><span class="t" style="left:327px;top:676.7px;color:#000;letter-spacing:-0.1px;">25 Jan 01:30</span><span class="t" style="left:391px;top:676.7px;color:#000;letter-spacing:-0.1px;">7 Feb 01:30</span><span class="t" style="left:455px;top:676.7px;color:#000;letter-spacing:-0.1px;">11 Feb 01:30</span><span class="t" style="left:519px;top:676.7px;color:#000;letter-spacing:-0.1px;">17 Feb 01:30</span><span class="t" style="left:583px;top:676.7px;color:#000;letter-spacing:-0.1px;">23 Feb 01:30</span><span class="t" style="left:647px;top:676.7px;color:#000;letter-spacing:-0.1px;">1 Mar 01:30</span><span class="t" style="left:711px;top:676.7px;color:#000;letter-spacing:-0.1px;">7 Mar 01:30</span><span class="t" style="left:775px;top:676.7px;color:#000;letter-spacing:-0.1px;">11 Mar 01:30</span><span class="t" style="left:839px;top:676.7px;color:#000;letter-spacing:-0.1px;">17 Mar 01:30</span><span class="t" style="left:903px;top:676.7px;color:#000;letter-spacing:-0.1px;">23 Mar 01:30</span>
</div>
</body></html>
